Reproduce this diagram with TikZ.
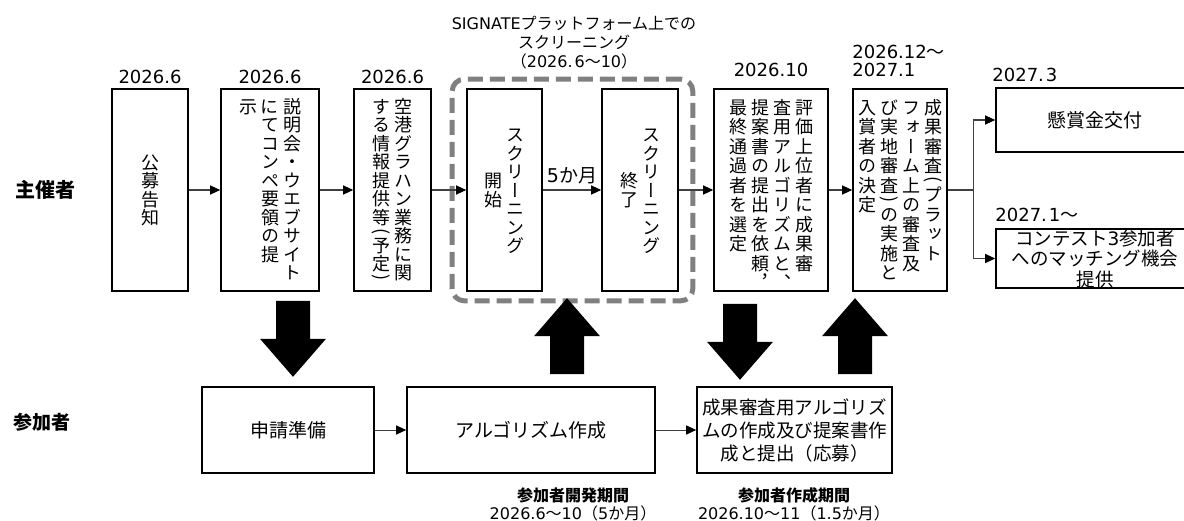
\documentclass[tikz,border=0pt]{standalone}
\usepackage{fontspec}
\usepackage{graphicx}
\setmainfont{Noto Sans CJK JP}
\newfontfamily\tatefont[RawFeature=+vert]{Noto Sans CJK JP}
\newfontfamily\yokofont{Noto Sans CJK JP}
\newfontfamily\latin{DejaVu Sans}
\newcommand\lat[1]{{\latin #1}}
\newcommand\kara{{\yokofont ～}}
\usetikzlibrary{arrows.meta,fit,positioning}

% 縦書き（1文字ずつ積む）
\newdimen\tp \tp=18.5pt
\newdimen\tateh \tateh=186pt
\newdimen\tparenraise
\def\lp{(}\def\rp{)}
\newcommand\tchar[1]{\hbox to 1em{\hss\vrule height .88\tp depth .12\tp width 0pt\relax\smash{#1}\hss}}
\newcommand\thalf[1]{\hbox to 1em{\hss\raisebox{-.38\tp}[.5\tp][0pt]{#1}\hss}}
\newcommand\tparen[1]{\setbox0\hbox{\yokofont\rotatebox{-90}{#1}}\tparenraise=\dimexpr.25\tp+.5\dp0\relax
  \hbox to 1em{\hss\raisebox{\tparenraise}[.5\tp][0pt]{\box0}\hss}}
\def\tloop#1{\ifx\relax#1\else
  \ifx\lp#1\tparen{(}\else
  \ifx\rp#1\tparen{)}\else
  \ifx、#1\thalf{#1}\else
  \ifx，#1\thalf{#1}\else
  \tchar{#1}\fi\fi\fi\fi
  \expandafter\tloop\fi}
\newcommand\tcol[1]{\vbox to \tateh{\offinterlineskip\tloop#1\relax\vss}}
\newcommand\tcolc[1]{\vbox to \tateh{\offinterlineskip\vss\tloop#1\relax\vss}}
\newcommand\tgap{\hskip 4pt}

\begin{document}
\begin{tikzpicture}[x=1pt,y=-1pt,
    box/.style={draw, line width=1.6pt, inner sep=0pt},
    tbox/.style={box, minimum height=202pt, font=\tatefont\fontsize{18}{18}\selectfont},
    ybox/.style={box, align=center, font=\fontsize{19}{23}\selectfont},
    datum/.style={inner sep=0pt, font=\latin\fontsize{18}{18}\selectfont},
    period/.style={inner sep=0pt, align=center, font=\fontsize{16}{18}\selectfont},
    flow/.style={draw=black!75, line width=1.1pt, -{Triangle[length=10pt,width=9pt,color=black]}},
    grp/.style={draw=black!50, line width=5pt, dash pattern=on 15pt off 7pt, rounded corners=12pt},
    pics/bigarrow/.style={code={\fill (-17,0) -- (17,0) -- (17,38) -- (33,38) -- (0,76) -- (-33,38) -- (-17,38) -- cycle;}}]

  \useasboundingbox (0,0) rectangle (1184,521);

  % 主催者
  \node[anchor=west, font=\bfseries\fontsize{20}{20}\selectfont] (shusai) at (12,190) {主催者};
  \node[tbox, minimum width=76pt] (koubo) at (150,190) {\tcolc{公募告知}};
  \node[tbox, minimum width=98pt] (setsumei) at (270,190) {\tcol{示}\tgap\tcol{にてコンペ要領の提}\tgap\tcol{説明会・ウエブサイト}};
  \node[tbox, minimum width=77pt] (kuukou) at (392.5,190) {\tcol{する情報提供等\lp 予定\rp}\tgap\tcol{空港グラハン業務に関}};
  \node[tbox, minimum width=75pt] (kaishi) at (504.5,190) {\tcolc{開始}\tgap\tcolc{スクリーニング}};
  \node[tbox, minimum width=76pt] (shuryo) at (640,190) {\tcolc{終了}\tgap\tcolc{スクリーニング}};
  \node[tbox, minimum width=114pt] (hyouka) at (771,190) {\tp=19.5pt\tcol{最終通過者を選定}\tgap\tcol{提案書の提出を依頼，}\tgap\tcol{査用アルゴリズムと、}\tgap\tcol{評価上位者に成果審}\hskip5pt};
  \node[tbox, minimum width=94pt] (shinsa) at (900,190) {\tp=19.5pt\tcol{入賞者の決定}\tgap\tcol{び実地審査\rp の実施と}\tgap\tcol{フォーム上の審査及}\tgap\tcol{成果審査\lp プラット}};
  \node[ybox, minimum width=198pt, minimum height=64pt] (kenshou) at (1095,120) {懸賞金交付};
  \node[box, minimum width=198pt, minimum height=59pt] (matching) at (1095,258.5) {};
  \node[align=center, inner sep=0pt, font=\fontsize{18.5}{20.5}\selectfont] (matchtxt) at (matching) {コンテスト\lat{3}参加者\\へのマッチング機会\\提供};

  % スクリーニング期間
  \node[grp, fit=(kaishi)(shuryo), inner xsep=14pt, inner ysep=9pt] (screen) {};
  \node[align=center, font=\fontsize{16}{19}\selectfont] (screentitle) at (574,43) {\lat{SIGNATE}プラットフォーム上での\\スクリーニング\\（\lat{2026.\kern2pt 6}～\lat{10}）};

  % 日付
  \node[datum, above=4pt of koubo] (d1) {2026.6};
  \node[datum, above=4pt of setsumei] (d2) {2026.6};
  \node[datum, above=4pt of kuukou] (d3) {2026.6};
  \node[datum, above=11pt of hyouka] (d6) {2026.10};
  \node[datum, align=left, anchor=south west] (d7) at ([yshift=11pt]shinsa.north west) {2026.12\kara\\2027.1};
  \node[datum, anchor=south west] (d8) at ([yshift=5pt,xshift=-3pt]kenshou.north west) {2027.\kern2pt 3};
  \node[datum, anchor=south west] (d9) at ([yshift=6pt]matching.north west) {2027.\kern2pt 1\kara};

  % 流れ
  \draw[flow] (koubo) -- (setsumei);
  \draw[flow] (setsumei) -- (kuukou);
  \draw[flow] (kuukou) -- (kaishi);
  \draw[flow] (kaishi) -- node[above=5pt, inner sep=0pt, font=\fontsize{19}{19}\selectfont] (kagetsu) {\lat{5}か月} (shuryo);
  \draw[flow] (shuryo) -- (hyouka);
  \draw[flow] (hyouka) -- (shinsa);
  \coordinate (bunki) at ([xshift=26pt]shinsa.east);
  \draw[draw=black!75, line width=1.1pt] (shinsa.east) -- (bunki);
  \draw[flow] (bunki) |- (kenshou.west);
  \draw[flow] (bunki) |- (matching.west);

  % 参加者
  \node[anchor=west, font=\bfseries\fontsize{19}{19}\selectfont] (sanka) at (10,422) {参加者};
  \node[ybox, minimum width=172pt, minimum height=86pt] (shinsei) at (288,430) {申請準備};
  \node[ybox, minimum width=248pt, minimum height=86pt] (algo) at (531,430) {アルゴリズム作成};
  \node[ybox, font=\fontsize{18.5}{23}\selectfont, minimum width=195pt, minimum height=86pt] (seika) at (794.5,430) {成果審査用アルゴリズ\\ムの作成及び提案書作\\成と提出（応募）};
  \draw[flow, line width=0.9pt] (shinsei) -- (algo);
  \draw[flow, line width=0.9pt] (algo) -- (seika);

  \node[period] (kaihatsu) at (573,504) {\textbf{参加者開発期間}\\\lat{2026.6}～\lat{10}（\lat{5}か月）};
  \node[period] (sakusei) at (794,504) {\textbf{参加者作成期間}\\\lat{2026.10}～\lat{11}（\lat{1.5}か月）};

  % 太い矢印
  \pic at ([xshift=23pt,yshift=-9pt]setsumei.south) {bigarrow};
  \pic[rotate=180] at ([xshift=36pt,yshift=12pt]algo.north) {bigarrow};
  \pic at ([xshift=-31pt,yshift=-12pt]hyouka.south) {bigarrow};
  \pic[rotate=180] at ([xshift=60.5pt,yshift=12pt]seika.north) {bigarrow};
\end{tikzpicture}
\end{document}
